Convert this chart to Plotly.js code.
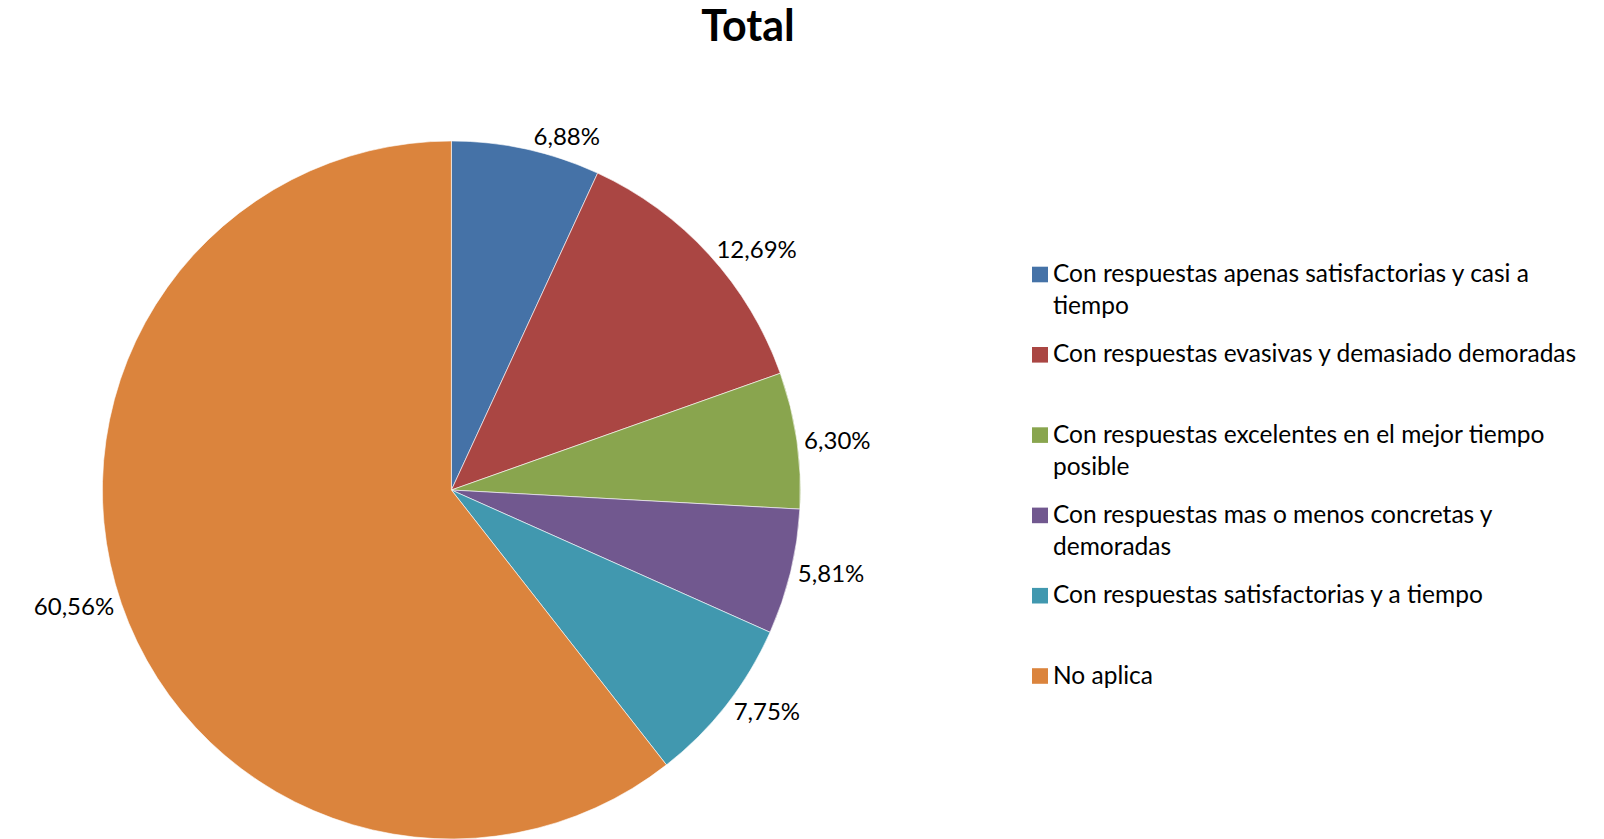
<!DOCTYPE html>
<html>
<head>
<meta charset="utf-8">
<script src="https://cdn.plot.ly/plotly-3.0.1.min.js"></script>
<style>
html,body{margin:0;padding:0;background:#ffffff;}
#chart{width:1604px;height:839px;}
</style>
</head>
<body>
<div id="chart"></div>
<script>
// ---- data ----
const categories = [
  "Con respuestas apenas satisfactorias y casi a tiempo",
  "Con respuestas evasivas y demasiado demoradas",
  "Con respuestas excelentes en el mejor tiempo posible",
  "Con respuestas mas o menos concretas y demoradas",
  "Con respuestas satisfactorias y a tiempo",
  "No aplica"
];
const legendLabels = [
  "Con respuestas apenas satisfactorias y casi a<br>tiempo",
  "Con respuestas evasivas y demasiado demoradas",
  "Con respuestas excelentes en el mejor tiempo<br>posible",
  "Con respuestas mas o menos concretas y<br>demoradas",
  "Con respuestas satisfactorias y a tiempo",
  "No aplica"
];
const values = [6.88, 12.69, 6.30, 5.81, 7.75, 60.56];
const colors = ["#4572A7", "#AA4643", "#89A54E", "#71588F", "#4198AF", "#DB843D"];
const titleText = "Total";

// ---- layout helpers ----
const W = 1604, H = 839;
const FONT = "Lato, 'Open Sans', sans-serif";
const LEG_FS = 24.5;
const px = x => x / W;
const py = y => 1 - y / H;

const trace = {
  type: "pie",
  values: values,
  labels: categories,
  sort: false,
  direction: "clockwise",
  rotation: 0,
  marker: { colors: colors, line: { color: "#ffffff", width: 0.6 } },
  textposition: "outside",
  texttemplate: "%{value:.2f}%",
  textfont: { family: FONT, size: 24, color: "#000000" },
  hoverinfo: "label+value",
  showlegend: false,
  domain: { x: [px(102), px(800.8)], y: [0, py(141)] }
};

// legend drawn as layout annotations + squares
const annotations = [];
const shapes = [];
const legY0 = 274.5, legStep = 80.3;
legendLabels.forEach((lab, i) => {
  const yc = legY0 + i * legStep;
  shapes.push({
    type: "rect", xref: "paper", yref: "paper",
    x0: px(1032), x1: px(1048), y0: py(yc + 7.8), y1: py(yc - 7.8),
    fillcolor: colors[i], line: { width: 0 }
  });
  annotations.push({
    xref: "paper", yref: "paper",
    x: px(1051), y: py(yc - 0.75 * LEG_FS),
    xanchor: "left", yanchor: "top", align: "left",
    showarrow: false, text: lab,
    font: { family: FONT, size: LEG_FS, color: "#000000" }
  });
});

const layout = {
  width: W, height: H,
  margin: { l: 0, r: 0, t: 0, b: 0 },
  paper_bgcolor: "#ffffff",
  separators: ",.",
  title: {
    text: "<b>" + titleText + "</b>",
    font: { family: FONT, size: 43, color: "#000000" },
    x: px(748), xanchor: "center", xref: "paper",
    y: 1 - 26 / H, yanchor: "middle", yref: "container"
  },
  showlegend: false,
  annotations: annotations,
  shapes: shapes
};

Plotly.newPlot("chart", [trace], layout, { displayModeBar: false, staticPlot: true });
</script>
</body>
</html>
